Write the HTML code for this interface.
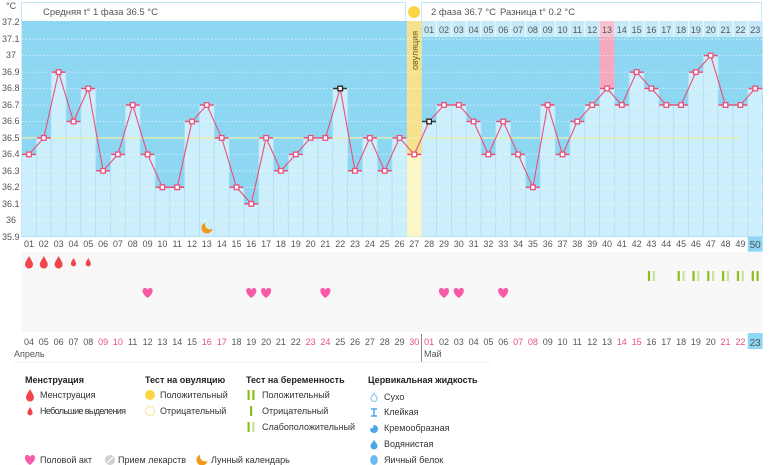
<!DOCTYPE html>
<html><head><meta charset="utf-8"><style>
html,body{margin:0;padding:0;background:#fff;}
svg{display:block;font-family:"Liberation Sans","DejaVu Sans",sans-serif;}
.t{font-size:9px;fill:#555;}
.d{font-size:9px;fill:#555;text-anchor:middle;}
.r{fill:#e8507a;}
.lg{font-size:9px;fill:#333;}
.lh{font-size:9px;fill:#222;font-weight:bold;}
</style></head><body>
<svg width="770" height="465" viewBox="0 0 770 465" xmlns="http://www.w3.org/2000/svg">
<defs>
<g id="pt"><rect x="-2.3" y="-2.3" width="4.6" height="4.6" fill="#fff" stroke="#e8507a" stroke-width="1.3"/></g>
<g id="cap"><line x1="-7" y1="0" x2="7" y2="0" stroke="#e8507a" stroke-width="1.5"/></g>
<path id="dropL" d="M0,-6 C2,-2 4,0 4,2.5 A4,4 0 0 1 -4,2.5 C-4,0 -2,-2 0,-6Z" fill="#f0464c"/>
<path id="dropS" d="M0,-4 C1.3,-1.5 2.6,0 2.6,1.8 A2.6,2.6 0 0 1 -2.6,1.8 C-2.6,0 -1.3,-1.5 0,-4Z" fill="#f0464c"/>
<path id="heart" d="M0,5 C-7,0 -5.5,-5 -2.8,-5 C-1.2,-5 0,-3.8 0,-2.8 C0,-3.8 1.2,-5 2.8,-5 C5.5,-5 7,0 0,5Z" fill="#f85aa8"/>
<g id="pw"><rect x="-3.5" y="-5" width="2.2" height="10" fill="#8cbf1e"/><rect x="1.3" y="-5" width="2.2" height="10" fill="#c9e39a"/></g>
<g id="pp"><rect x="-3.5" y="-5" width="2.2" height="10" fill="#8cbf1e"/><rect x="1.3" y="-5" width="2.2" height="10" fill="#8cbf1e"/></g>
</defs>

<text x="6" y="9" class="t">°C</text>
<rect x="21.5" y="2.5" width="384" height="19" fill="#fff" stroke="#c4e8f7"/>
<text x="43" y="15" class="t" style="font-size:9.5px">Средняя t° 1 фаза 36.5 °C</text>
<circle cx="414" cy="12" r="6" fill="#fcd444"/>
<rect x="421.5" y="2.5" width="340" height="19" fill="#fff" stroke="#c4e8f7"/>
<text x="431" y="15" class="t" style="font-size:9.5px">2 фаза 36.7 °C</text>
<text x="500" y="15" class="t" style="font-size:9.5px">Разница t° 0.2 °C</text>

<rect x="21.6" y="21" width="741" height="216" fill="#8ed7f3"/>
<rect x="421.9" y="21" width="340.7" height="16" fill="#c6eafa"/>

<g fill="#cdeefb" stroke="#aee0f5" stroke-width="0.8">
<rect x="21.6" y="154.4" width="14.82" height="82.3"/>
<rect x="36.4" y="137.9" width="14.82" height="98.8"/>
<rect x="51.2" y="72.1" width="14.82" height="164.6"/>
<rect x="66.1" y="121.5" width="14.82" height="115.2"/>
<rect x="80.9" y="88.5" width="14.82" height="148.2"/>
<rect x="95.7" y="170.8" width="14.82" height="65.9"/>
<rect x="110.5" y="154.4" width="14.82" height="82.3"/>
<rect x="125.3" y="105.0" width="14.82" height="131.7"/>
<rect x="140.2" y="154.4" width="14.82" height="82.3"/>
<rect x="155.0" y="187.3" width="14.82" height="49.4"/>
<rect x="169.8" y="187.3" width="14.82" height="49.4"/>
<rect x="184.6" y="121.5" width="14.82" height="115.2"/>
<rect x="199.4" y="105.0" width="14.82" height="131.7"/>
<rect x="214.3" y="137.9" width="14.82" height="98.8"/>
<rect x="229.1" y="187.3" width="14.82" height="49.4"/>
<rect x="243.9" y="203.8" width="14.82" height="32.9"/>
<rect x="258.7" y="137.9" width="14.82" height="98.8"/>
<rect x="273.5" y="170.8" width="14.82" height="65.9"/>
<rect x="288.4" y="154.4" width="14.82" height="82.3"/>
<rect x="303.2" y="137.9" width="14.82" height="98.8"/>
<rect x="318.0" y="137.9" width="14.82" height="98.8"/>
<rect x="332.8" y="88.5" width="14.82" height="148.2"/>
<rect x="347.6" y="170.8" width="14.82" height="65.9"/>
<rect x="362.5" y="137.9" width="14.82" height="98.8"/>
<rect x="377.3" y="170.8" width="14.82" height="65.9"/>
<rect x="392.1" y="137.9" width="14.82" height="98.8"/>
<rect x="421.7" y="121.5" width="14.82" height="115.2"/>
<rect x="436.6" y="105.0" width="14.82" height="131.7"/>
<rect x="451.4" y="105.0" width="14.82" height="131.7"/>
<rect x="466.2" y="121.5" width="14.82" height="115.2"/>
<rect x="481.0" y="154.4" width="14.82" height="82.3"/>
<rect x="495.8" y="121.5" width="14.82" height="115.2"/>
<rect x="510.7" y="154.4" width="14.82" height="82.3"/>
<rect x="525.5" y="187.3" width="14.82" height="49.4"/>
<rect x="540.3" y="105.0" width="14.82" height="131.7"/>
<rect x="555.1" y="154.4" width="14.82" height="82.3"/>
<rect x="569.9" y="121.5" width="14.82" height="115.2"/>
<rect x="584.8" y="105.0" width="14.82" height="131.7"/>
<rect x="599.6" y="88.5" width="14.82" height="148.2"/>
<rect x="614.4" y="105.0" width="14.82" height="131.7"/>
<rect x="629.2" y="72.1" width="14.82" height="164.6"/>
<rect x="644.0" y="88.5" width="14.82" height="148.2"/>
<rect x="658.9" y="105.0" width="14.82" height="131.7"/>
<rect x="673.7" y="105.0" width="14.82" height="131.7"/>
<rect x="688.5" y="72.1" width="14.82" height="164.6"/>
<rect x="703.3" y="55.6" width="14.82" height="181.1"/>
<rect x="718.1" y="105.0" width="14.82" height="131.7"/>
<rect x="733.0" y="105.0" width="14.82" height="131.7"/>
<rect x="747.8" y="88.5" width="14.82" height="148.2"/>
</g>
<g stroke="#fff" stroke-width="0.8">
<line x1="436.6" y1="21" x2="436.6" y2="37"/><line x1="451.4" y1="21" x2="451.4" y2="37"/><line x1="466.2" y1="21" x2="466.2" y2="37"/><line x1="481.0" y1="21" x2="481.0" y2="37"/><line x1="495.8" y1="21" x2="495.8" y2="37"/><line x1="510.7" y1="21" x2="510.7" y2="37"/><line x1="525.5" y1="21" x2="525.5" y2="37"/><line x1="540.3" y1="21" x2="540.3" y2="37"/><line x1="555.1" y1="21" x2="555.1" y2="37"/><line x1="569.9" y1="21" x2="569.9" y2="37"/><line x1="584.8" y1="21" x2="584.8" y2="37"/><line x1="599.6" y1="21" x2="599.6" y2="37"/><line x1="614.4" y1="21" x2="614.4" y2="37"/><line x1="629.2" y1="21" x2="629.2" y2="37"/><line x1="644.0" y1="21" x2="644.0" y2="37"/><line x1="658.9" y1="21" x2="658.9" y2="37"/><line x1="673.7" y1="21" x2="673.7" y2="37"/><line x1="688.5" y1="21" x2="688.5" y2="37"/><line x1="703.3" y1="21" x2="703.3" y2="37"/><line x1="718.1" y1="21" x2="718.1" y2="37"/><line x1="733.0" y1="21" x2="733.0" y2="37"/><line x1="747.8" y1="21" x2="747.8" y2="37"/>
</g>
<rect x="599.6" y="21" width="14.82" height="16" fill="#f8c3d1"/>
<rect x="599.6" y="37" width="14.82" height="51.5" fill="#f5a9bf"/>
<rect x="406.9" y="21" width="14.82" height="133.4" fill="#f6e28e"/>
<rect x="406.9" y="154.4" width="14.82" height="82.3" fill="#fdf6c9"/>
<text transform="translate(418,70) rotate(-90)" style="font-size:9px;fill:#6b5a1a">овуляция</text>

<g stroke="#ffffff" stroke-opacity="0.7" stroke-width="0.8" stroke-dasharray="1.5,2">
<line x1="22" y1="39.2" x2="762" y2="39.2"/><line x1="22" y1="55.6" x2="762" y2="55.6"/><line x1="22" y1="72.1" x2="762" y2="72.1"/><line x1="22" y1="88.5" x2="762" y2="88.5"/><line x1="22" y1="105" x2="762" y2="105"/><line x1="22" y1="121.5" x2="762" y2="121.5"/><line x1="22" y1="154.4" x2="762" y2="154.4"/><line x1="22" y1="170.8" x2="762" y2="170.8"/><line x1="22" y1="187.3" x2="762" y2="187.3"/><line x1="22" y1="203.8" x2="762" y2="203.8"/><line x1="22" y1="220.2" x2="762" y2="220.2"/>
</g>
<line x1="22" y1="137.9" x2="740" y2="137.9" stroke="#f1f0a8" stroke-width="1.2"/>

<g class="t">
<text x="2" y="25">37.2</text><text x="2" y="42">37.1</text><text x="6" y="58">37</text><text x="2" y="75">36.9</text><text x="2" y="91">36.8</text><text x="2" y="108">36.7</text><text x="2" y="124">36.6</text><text x="2" y="141">36.5</text><text x="2" y="157">36.4</text><text x="2" y="174">36.3</text><text x="2" y="190">36.2</text><text x="2" y="207">36.1</text><text x="6" y="223">36</text><text x="2" y="240">35.9</text>
</g>

<g class="d">
<text x="429.1" y="33">01</text><text x="444.0" y="33">02</text><text x="458.8" y="33">03</text><text x="473.6" y="33">04</text><text x="488.4" y="33">05</text><text x="503.2" y="33">06</text><text x="518.1" y="33">07</text><text x="532.9" y="33">08</text><text x="547.7" y="33">09</text><text x="562.5" y="33">10</text><text x="577.3" y="33">11</text><text x="592.2" y="33">12</text><text x="607.0" y="33">13</text><text x="621.8" y="33">14</text><text x="636.6" y="33">15</text><text x="651.4" y="33">16</text><text x="666.3" y="33">17</text><text x="681.1" y="33">18</text><text x="695.9" y="33">19</text><text x="710.7" y="33">20</text><text x="725.5" y="33">21</text><text x="740.4" y="33">22</text><text x="755.2" y="33">23</text>
</g>

<polyline fill="none" stroke="#e8507a" stroke-width="1.1" points="29.0,154.4 43.8,137.9 58.6,72.1 73.5,121.5 88.3,88.5 103.1,170.8 117.9,154.4 132.7,105.0 147.6,154.4 162.4,187.3 177.2,187.3 192.0,121.5 206.8,105.0 221.7,137.9 236.5,187.3 251.3,203.8 266.1,137.9 280.9,170.8 295.8,154.4 310.6,137.9 325.4,137.9 340.2,88.5 355.0,170.8 369.9,137.9 384.7,170.8 399.5,137.9 414.3,154.4 429.1,121.5 444.0,105.0 458.8,105.0 473.6,121.5 488.4,154.4 503.2,121.5 518.1,154.4 532.9,187.3 547.7,105.0 562.5,154.4 577.3,121.5 592.2,105.0 607.0,88.5 621.8,105.0 636.6,72.1 651.4,88.5 666.3,105.0 681.1,105.0 695.9,72.1 710.7,55.6 725.5,105.0 740.4,105.0 755.2,88.5"/>
<g>
<use href="#cap" x="29.0" y="154.4"/><use href="#cap" x="43.8" y="137.9"/><use href="#cap" x="58.6" y="72.1"/><use href="#cap" x="73.5" y="121.5"/><use href="#cap" x="88.3" y="88.5"/><use href="#cap" x="103.1" y="170.8"/><use href="#cap" x="117.9" y="154.4"/><use href="#cap" x="132.7" y="105.0"/><use href="#cap" x="147.6" y="154.4"/><use href="#cap" x="162.4" y="187.3"/><use href="#cap" x="177.2" y="187.3"/><use href="#cap" x="192.0" y="121.5"/><use href="#cap" x="206.8" y="105.0"/><use href="#cap" x="221.7" y="137.9"/><use href="#cap" x="236.5" y="187.3"/><use href="#cap" x="251.3" y="203.8"/><use href="#cap" x="266.1" y="137.9"/><use href="#cap" x="280.9" y="170.8"/><use href="#cap" x="295.8" y="154.4"/><use href="#cap" x="310.6" y="137.9"/><use href="#cap" x="325.4" y="137.9"/><use href="#cap" x="355.0" y="170.8"/><use href="#cap" x="369.9" y="137.9"/><use href="#cap" x="384.7" y="170.8"/><use href="#cap" x="399.5" y="137.9"/><use href="#cap" x="414.3" y="154.4"/><use href="#cap" x="444.0" y="105.0"/><use href="#cap" x="458.8" y="105.0"/><use href="#cap" x="473.6" y="121.5"/><use href="#cap" x="488.4" y="154.4"/><use href="#cap" x="503.2" y="121.5"/><use href="#cap" x="518.1" y="154.4"/><use href="#cap" x="532.9" y="187.3"/><use href="#cap" x="547.7" y="105.0"/><use href="#cap" x="562.5" y="154.4"/><use href="#cap" x="577.3" y="121.5"/><use href="#cap" x="592.2" y="105.0"/><use href="#cap" x="607.0" y="88.5"/><use href="#cap" x="621.8" y="105.0"/><use href="#cap" x="636.6" y="72.1"/><use href="#cap" x="651.4" y="88.5"/><use href="#cap" x="666.3" y="105.0"/><use href="#cap" x="681.1" y="105.0"/><use href="#cap" x="695.9" y="72.1"/><use href="#cap" x="710.7" y="55.6"/><use href="#cap" x="725.5" y="105.0"/><use href="#cap" x="740.4" y="105.0"/><use href="#cap" x="755.2" y="88.5"/>
<line x1="333" y1="88.5" x2="347" y2="88.5" stroke="#333" stroke-width="1.5"/>
<line x1="422" y1="121.5" x2="436" y2="121.5" stroke="#333" stroke-width="1.5"/>
</g>
<g>
<use href="#pt" x="29.0" y="154.4"/><use href="#pt" x="43.8" y="137.9"/><use href="#pt" x="58.6" y="72.1"/><use href="#pt" x="73.5" y="121.5"/><use href="#pt" x="88.3" y="88.5"/><use href="#pt" x="103.1" y="170.8"/><use href="#pt" x="117.9" y="154.4"/><use href="#pt" x="132.7" y="105.0"/><use href="#pt" x="147.6" y="154.4"/><use href="#pt" x="162.4" y="187.3"/><use href="#pt" x="177.2" y="187.3"/><use href="#pt" x="192.0" y="121.5"/><use href="#pt" x="206.8" y="105.0"/><use href="#pt" x="221.7" y="137.9"/><use href="#pt" x="236.5" y="187.3"/><use href="#pt" x="251.3" y="203.8"/><use href="#pt" x="266.1" y="137.9"/><use href="#pt" x="280.9" y="170.8"/><use href="#pt" x="295.8" y="154.4"/><use href="#pt" x="310.6" y="137.9"/><use href="#pt" x="325.4" y="137.9"/><use href="#pt" x="355.0" y="170.8"/><use href="#pt" x="369.9" y="137.9"/><use href="#pt" x="384.7" y="170.8"/><use href="#pt" x="399.5" y="137.9"/><use href="#pt" x="414.3" y="154.4"/><use href="#pt" x="444.0" y="105.0"/><use href="#pt" x="458.8" y="105.0"/><use href="#pt" x="473.6" y="121.5"/><use href="#pt" x="488.4" y="154.4"/><use href="#pt" x="503.2" y="121.5"/><use href="#pt" x="518.1" y="154.4"/><use href="#pt" x="532.9" y="187.3"/><use href="#pt" x="547.7" y="105.0"/><use href="#pt" x="562.5" y="154.4"/><use href="#pt" x="577.3" y="121.5"/><use href="#pt" x="592.2" y="105.0"/><use href="#pt" x="607.0" y="88.5"/><use href="#pt" x="621.8" y="105.0"/><use href="#pt" x="636.6" y="72.1"/><use href="#pt" x="651.4" y="88.5"/><use href="#pt" x="666.3" y="105.0"/><use href="#pt" x="681.1" y="105.0"/><use href="#pt" x="695.9" y="72.1"/><use href="#pt" x="710.7" y="55.6"/><use href="#pt" x="725.5" y="105.0"/><use href="#pt" x="740.4" y="105.0"/><use href="#pt" x="755.2" y="88.5"/>
<rect x="337.9" y="86.2" width="4.6" height="4.6" fill="#fff" stroke="#222" stroke-width="1.3"/>
<rect x="426.8" y="119.2" width="4.6" height="4.6" fill="#fff" stroke="#222" stroke-width="1.3"/>
</g>
<!-- moon -->
<circle cx="207" cy="228" r="5.5" fill="#f29a16"/>
<circle cx="210" cy="224.5" r="5" fill="#cdeefb"/>

<rect x="22" y="252" width="740" height="80" fill="#f8f8f8"/>
<rect x="747.8" y="236.7" width="14.82" height="15" fill="#8ed7f3"/>
<rect x="747.8" y="333" width="14.82" height="16" fill="#8ed7f3"/>
<g class="d">
<text x="29.0" y="247">01</text><text x="43.8" y="247">02</text><text x="58.6" y="247">03</text><text x="73.5" y="247">04</text><text x="88.3" y="247">05</text><text x="103.1" y="247">06</text><text x="117.9" y="247">07</text><text x="132.7" y="247">08</text><text x="147.6" y="247">09</text><text x="162.4" y="247">10</text><text x="177.2" y="247">11</text><text x="192.0" y="247">12</text><text x="206.8" y="247">13</text><text x="221.7" y="247">14</text><text x="236.5" y="247">15</text><text x="251.3" y="247">16</text><text x="266.1" y="247">17</text><text x="280.9" y="247">18</text><text x="295.8" y="247">19</text><text x="310.6" y="247">20</text><text x="325.4" y="247">21</text><text x="340.2" y="247">22</text><text x="355.0" y="247">23</text><text x="369.9" y="247">24</text><text x="384.7" y="247">25</text><text x="399.5" y="247">26</text><text x="414.3" y="247">27</text><text x="429.1" y="247">28</text><text x="444.0" y="247">29</text><text x="458.8" y="247">30</text><text x="473.6" y="247">31</text><text x="488.4" y="247">32</text><text x="503.2" y="247">33</text><text x="518.1" y="247">34</text><text x="532.9" y="247">35</text><text x="547.7" y="247">36</text><text x="562.5" y="247">37</text><text x="577.3" y="247">38</text><text x="592.2" y="247">39</text><text x="607.0" y="247">40</text><text x="621.8" y="247">41</text><text x="636.6" y="247">42</text><text x="651.4" y="247">43</text><text x="666.3" y="247">44</text><text x="681.1" y="247">45</text><text x="695.9" y="247">46</text><text x="710.7" y="247">47</text><text x="725.5" y="247">48</text><text x="740.4" y="247">49</text><text x="755.2" y="248" style="font-size:10px">50</text>
</g>
<use href="#dropL" x="29.0" y="262"/><use href="#dropL" x="43.8" y="262"/><use href="#dropL" x="58.6" y="262"/><use href="#dropS" x="73.5" y="262"/><use href="#dropS" x="88.3" y="262"/>
<use href="#pw" x="651.4" y="276"/><use href="#pw" x="681.1" y="276"/><use href="#pw" x="695.9" y="276"/><use href="#pw" x="710.7" y="276"/><use href="#pw" x="725.5" y="276"/><use href="#pw" x="740.4" y="276"/><use href="#pp" x="755.2" y="276"/>
<use href="#heart" x="147.6" y="293"/><use href="#heart" x="251.3" y="293"/><use href="#heart" x="266.1" y="293"/><use href="#heart" x="325.4" y="293"/><use href="#heart" x="444.0" y="293"/><use href="#heart" x="458.8" y="293"/><use href="#heart" x="503.2" y="293"/>

<g class="d">
<text x="29.0" y="345">04</text><text x="43.8" y="345">05</text><text x="58.6" y="345">06</text><text x="73.5" y="345">07</text><text x="88.3" y="345">08</text><text x="103.1" y="345" class="r">09</text><text x="117.9" y="345" class="r">10</text><text x="132.7" y="345">11</text><text x="147.6" y="345">12</text><text x="162.4" y="345">13</text><text x="177.2" y="345">14</text><text x="192.0" y="345">15</text><text x="206.8" y="345" class="r">16</text><text x="221.7" y="345" class="r">17</text><text x="236.5" y="345">18</text><text x="251.3" y="345">19</text><text x="266.1" y="345">20</text><text x="280.9" y="345">21</text><text x="295.8" y="345">22</text><text x="310.6" y="345" class="r">23</text><text x="325.4" y="345" class="r">24</text><text x="340.2" y="345">25</text><text x="355.0" y="345">26</text><text x="369.9" y="345">27</text><text x="384.7" y="345">28</text><text x="399.5" y="345">29</text><text x="414.3" y="345" class="r">30</text><text x="429.1" y="345" class="r">01</text><text x="444.0" y="345">02</text><text x="458.8" y="345">03</text><text x="473.6" y="345">04</text><text x="488.4" y="345">05</text><text x="503.2" y="345">06</text><text x="518.1" y="345" class="r">07</text><text x="532.9" y="345" class="r">08</text><text x="547.7" y="345">09</text><text x="562.5" y="345">10</text><text x="577.3" y="345">11</text><text x="592.2" y="345">12</text><text x="607.0" y="345">13</text><text x="621.8" y="345" class="r">14</text><text x="636.6" y="345" class="r">15</text><text x="651.4" y="345">16</text><text x="666.3" y="345">17</text><text x="681.1" y="345">18</text><text x="695.9" y="345">19</text><text x="710.7" y="345">20</text><text x="725.5" y="345" class="r">21</text><text x="740.4" y="345" class="r">22</text><text x="755.2" y="346" style="font-size:10px">23</text>
</g>
<text x="14" y="357" class="t">Апрель</text>
<line x1="421.5" y1="334" x2="421.5" y2="362" stroke="#888" stroke-width="1"/>
<text x="424" y="357" class="t">Май</text>
<line x1="14" y1="362" x2="490" y2="362" stroke="#eee"/>

<text x="25" y="383" class="lh">Менструация</text>
<use href="#dropL" x="30" y="395"/><text x="40" y="398" class="lg">Менструация</text>
<use href="#dropS" x="30" y="411"/><text x="40" y="414" class="lg" textLength="86">Небольшие выделения</text>
<text x="145" y="383" class="lh">Тест на овуляцию</text>
<circle cx="150" cy="395" r="5" fill="#fcd444"/><text x="160" y="398" class="lg">Положительный</text>
<circle cx="150" cy="411" r="4.5" fill="none" stroke="#fbe9a0" stroke-width="1.2"/><text x="160" y="414" class="lg">Отрицательный</text>
<text x="246" y="383" class="lh">Тест на беременность</text>
<use href="#pp" x="251" y="395"/><text x="262" y="398" class="lg">Положительный</text>
<rect x="250" y="406" width="2.2" height="10" fill="#8cbf1e"/><text x="262" y="414" class="lg">Отрицательный</text>
<use href="#pw" x="251" y="427"/><text x="262" y="430" class="lg">Слабоположительный</text>
<text x="368" y="383" class="lh">Цервикальная жидкость</text>
<path d="M374,393 C375.5,395.5 377,397 377,398.5 A3,3 0 0 1 371,398.5 C371,397 372.5,395.5 374,393Z" fill="none" stroke="#7cc4ec" stroke-width="1"/><text x="384" y="400" class="lg">Сухо</text>
<path d="M371,409 H377 M374,409 V416 M371,416 H377" stroke="#4aa8e8" stroke-width="1.5" fill="none"/><text x="384" y="415" class="lg">Клейкая</text>
<circle cx="374" cy="429" r="4" fill="#4aa8e8"/><circle cx="371" cy="426" r="2.5" fill="#fff"/><text x="384" y="431" class="lg">Кремообразная</text>
<path d="M374,440 C375.5,442.5 377.5,444 377.5,446 A3.5,3.5 0 0 1 370.5,446 C370.5,444 372.5,442.5 374,440Z" fill="#4aa8e8"/><text x="384" y="447" class="lg">Водянистая</text>
<ellipse cx="374" cy="460" rx="3.8" ry="5" fill="#6bbaf0"/><text x="384" y="463" class="lg">Яичный белок</text>
<use href="#heart" x="30" y="460"/><text x="40" y="463" class="lg">Половой акт</text>
<circle cx="110" cy="460" r="5" fill="#cfcfcf"/><line x1="107" y1="463" x2="113" y2="457" stroke="#fff" stroke-width="1.2"/><text x="118" y="463" class="lg">Прием лекарств</text>
<circle cx="202" cy="460" r="5.5" fill="#f29a16"/><circle cx="205" cy="456.5" r="5" fill="#fff"/><text x="211" y="463" class="lg">Лунный календарь</text>
</svg>
</body></html>
